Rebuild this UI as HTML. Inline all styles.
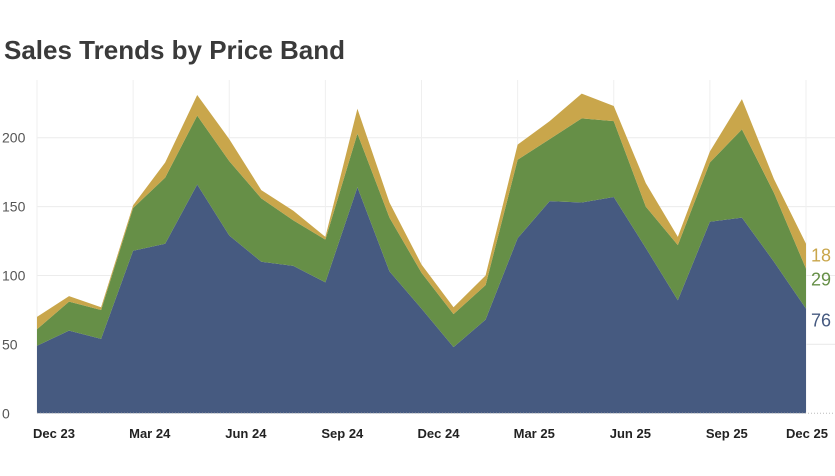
<!DOCTYPE html>
<html><head><meta charset="utf-8"><style>
body{margin:0;background:#fff;font-family:"Liberation Sans",sans-serif}
svg{display:block}
</style></head><body>
<svg id="chart" width="835" height="476">
<text x="4" y="59" font-size="26" font-weight="bold" fill="#3a3a3a">Sales Trends by Price Band</text>
<g id="grid"></g><g id="areas"></g><g id="axes"></g>
</svg>
<script>
const months=["Dec 23","Jan 24","Feb 24","Mar 24","Apr 24","May 24","Jun 24","Jul 24","Aug 24","Sep 24","Oct 24","Nov 24","Dec 24","Jan 25","Feb 25","Mar 25","Apr 25","May 25","Jun 25","Jul 25","Aug 25","Sep 25","Oct 25","Nov 25","Dec 25"];
const lowBand=[49,60,54,118,123,166,129,110,107,95,164,103,76,48,68,127,154,153,157,120,82,139,142,110,76];
const midBand=[12,21,21,31,48,50,54,46,33,31,39,39,26,24,25,57,45,61,55,30,40,43,64,50,29];
const highBand=[9,4,2,2,11,15,16,6,7,2,18,11,6,5,7,11,13,18,11,17,6,8,22,10,18];
const yTicks=[0,50,100,150,200];
const xTickLabels=["Dec 23","Mar 24","Jun 24","Sep 24","Dec 24","Mar 25","Jun 25","Sep 25","Dec 25"];
const NS="http://www.w3.org/2000/svg";
const x0=37,x1=806,yBase=413.3,pxPerUnit=1.378;
const xs=i=>x0+(x1-x0)*i/(months.length-1);
const ys=v=>yBase-v*pxPerUnit;
function mk(tag,attrs,parent){const e=document.createElementNS(NS,tag);for(const k in attrs)e.setAttribute(k,attrs[k]);parent.appendChild(e);return e;}
const grid=document.getElementById('grid'),areas=document.getElementById('areas'),axes=document.getElementById('axes');
yTicks.forEach(t=>{
  if(t>0){const l=mk('line',{x1:x0,x2:835,y1:ys(t),y2:ys(t),stroke:'#ececec','stroke-width':1},grid);
  
  }
  const tx=mk('text',{x:2,y:ys(t)+5,'font-size':14,fill:'#555'},axes);tx.textContent=t;
  
  
});
mk('line',{x1:806,x2:835,y1:ys(50),y2:ys(50),stroke:'#ececec'},grid);
xTickLabels.forEach(lab=>{
  const i=months.indexOf(lab);
  const l=mk('line',{x1:xs(i),x2:xs(i),y1:80,y2:yBase,stroke:'#efefef'},grid);
  
  
  const t=mk('text',{x:xs(i)-4,y:438,'font-size':13,'font-weight':'bold',fill:'#222','text-anchor':'start'},axes);
  t.setAttribute('x',xs(i)-(i===0?4:(i===months.length-1?20:4)));
  t.textContent=lab;
  
  
});
const series=[{d:lowBand,c:'#465a80',n:'low'},{d:midBand,c:'#668f47',n:'mid'},{d:highBand,c:'#c9a64b',n:'high'}];
let base=months.map(()=>0);
series.forEach(s=>{
  const top=base.map((b,i)=>b+s.d[i]);
  let p='M'+months.map((m,i)=>xs(i)+','+ys(top[i])).join('L');
  for(let i=months.length-1;i>=0;i--)p+='L'+xs(i)+','+ys(base[i]);
  const path=mk('path',{d:p+'Z',fill:s.c},areas);
  
  
  base=top;
});
mk('line',{x1:x0,x2:835,y1:yBase,y2:yBase,stroke:'#bbb','stroke-dasharray':'1,2'},axes);
const last=months.length-1;
const ly=ys(lowBand[last])+18;
const labYs=[ly, ly-41, ly-65];
series.forEach((s,k)=>{
  const t=mk('text',{x:811,y:labYs[k],'font-size':18,fill:s.c},axes);
  t.textContent=s.d[last];
  
  
});
</script>
</body></html>
